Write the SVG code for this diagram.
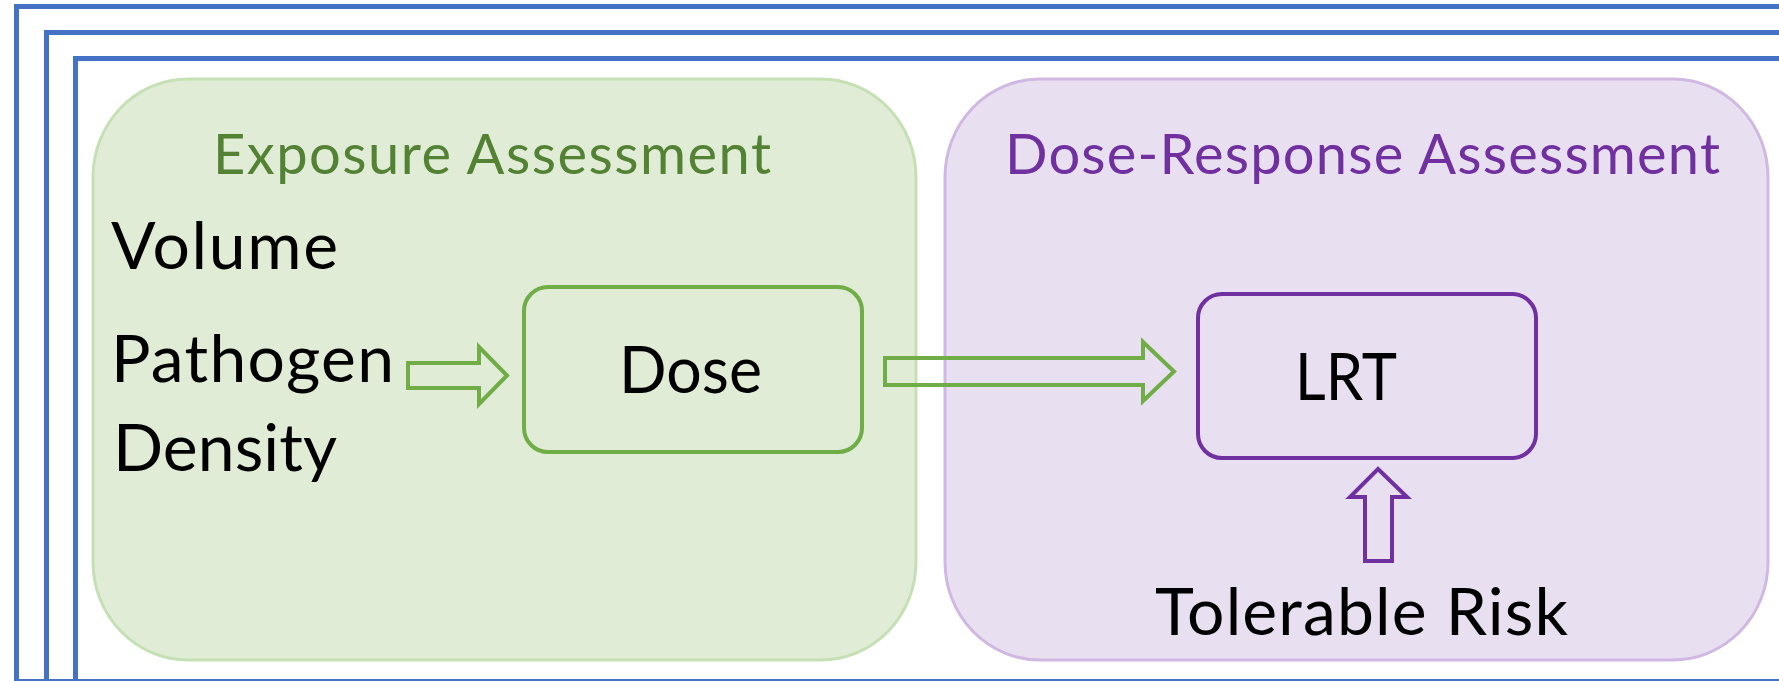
<svg xmlns="http://www.w3.org/2000/svg" width="1779" height="681" viewBox="0 0 1779 681">
<style>
.frame{fill:none;stroke:#4472C4;stroke-width:5}
.t{font-family:Lato,"Liberation Sans",sans-serif}
.big{font-size:66px;fill:#000}
.title{font-size:56px}
.garrow{fill:none;stroke:#70AD47;stroke-width:4;stroke-linejoin:miter}
.parrow{fill:none;stroke:#7030A0;stroke-width:4;stroke-linejoin:miter}
</style>
<rect width="1779" height="681" fill="#fff"/>
<g id="frames">
<rect class="frame" x="16.5" y="6.5" width="1800" height="700"/>
<rect class="frame" x="46.5" y="32.5" width="1800" height="700"/>
<rect class="frame" x="75.5" y="58.5" width="1800" height="700"/>
<line x1="14" y1="680" x2="1779" y2="680" stroke="#4472C4" stroke-width="2"/>
</g>
<g id="exposure">
<rect x="93" y="79" width="823" height="581" rx="95" ry="98" fill="#E0ECD5" stroke="#C5E0B4" stroke-width="3"/>
<text class="t title" x="213" y="174" fill="#548235" textLength="558">Exposure Assessment</text>
<text class="t big" x="111" y="269" textLength="227">Volume</text>
<text class="t big" x="111" y="382" textLength="283">Pathogen</text>
<text class="t big" x="113" y="471" textLength="224">Density</text>
</g>
<g id="doseresponse">
<rect x="945" y="79" width="823" height="581" rx="95" ry="98" fill="#E8E0F0" stroke="#D0B8E2" stroke-width="3"/>
<text class="t title" x="1005" y="174" fill="#7030A0" textLength="715">Dose-Response Assessment</text>
</g>
<g id="dose">
<rect x="524" y="287" width="338" height="165" rx="24" ry="24" fill="none" stroke="#70AD47" stroke-width="4"/>
<text class="t big" x="619" y="393" textLength="143" lengthAdjust="spacingAndGlyphs">Dose</text>
</g>
<g id="lrt">
<rect x="1198" y="294" width="338" height="164" rx="24" ry="24" fill="none" stroke="#7030A0" stroke-width="4"/>
<text class="t big" x="1295" y="400" textLength="102" lengthAdjust="spacingAndGlyphs">LRT</text>
</g>
<g id="tolerable">
<text class="t big" x="1155" y="635" textLength="413">Tolerable Risk</text>
</g>
<g id="connectors">
<polygon class="garrow" points="408,363 479,363 479,347 507,375.5 479,404 479,388 408,388"/>
<polygon class="garrow" points="885,358 1143,358 1143,342 1174,371.5 1143,401 1143,385 885,385"/>
<polygon class="parrow" points="1378,469 1407,497 1392,497 1392,561 1365,561 1365,497 1350,497"/>
</g>
</svg>
